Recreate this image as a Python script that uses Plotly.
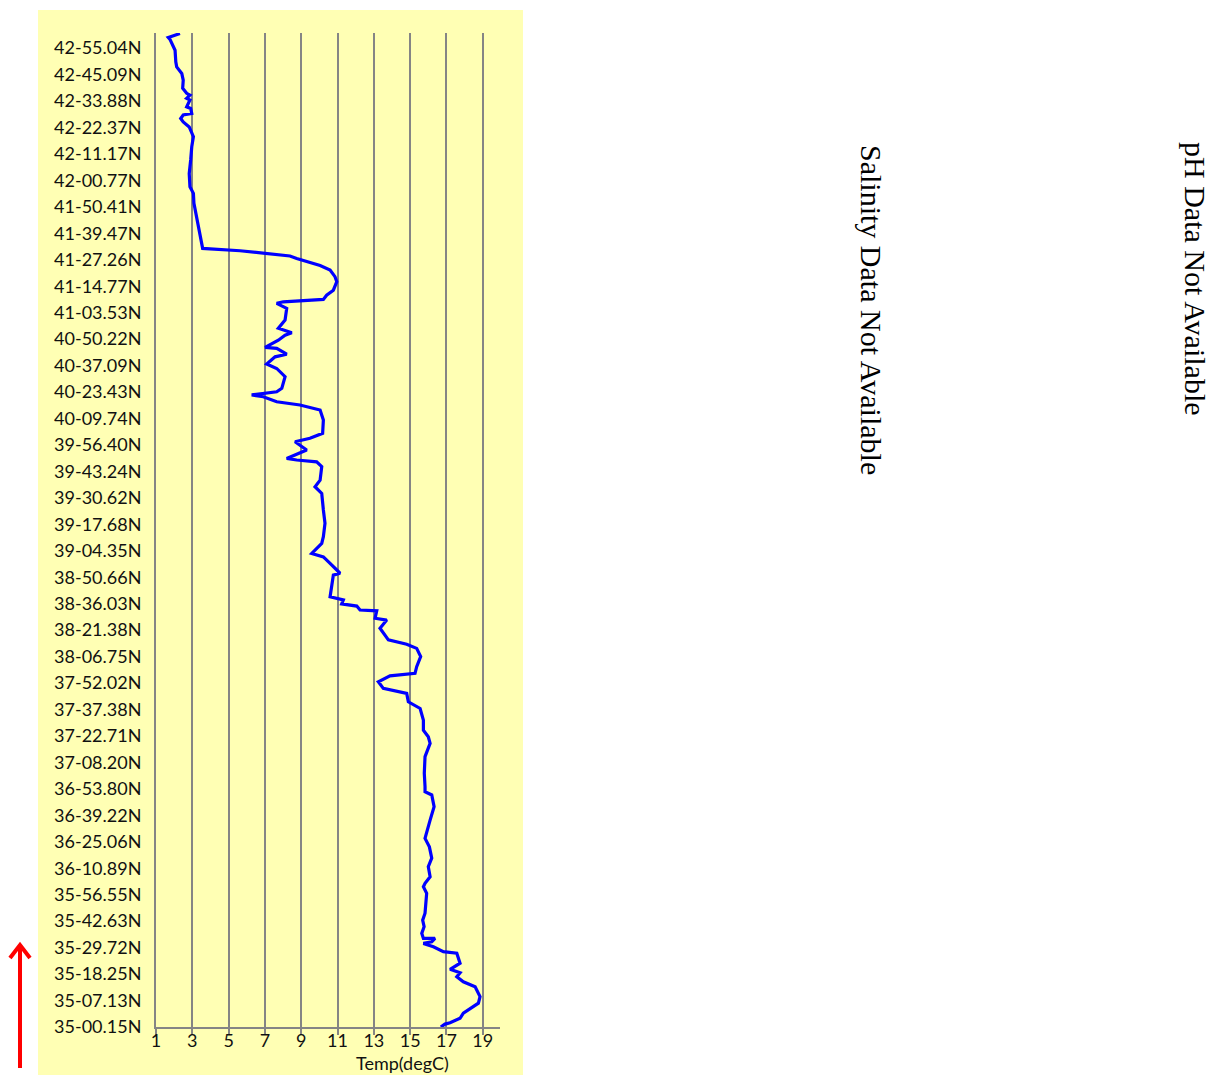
import plotly.graph_objects as go

# Latitude tick labels (bottom -> top); positions are evenly spaced track indices
lat_labels = [
    "35-00.15N", "35-07.13N", "35-18.25N", "35-29.72N", "35-42.63N", "35-56.55N",
    "36-10.89N", "36-25.06N", "36-39.22N", "36-53.80N", "37-08.20N", "37-22.71N",
    "37-37.38N", "37-52.02N", "38-06.75N", "38-21.38N", "38-36.03N", "38-50.66N",
    "39-04.35N", "39-17.68N", "39-30.62N", "39-43.24N", "39-56.40N", "40-09.74N",
    "40-23.43N", "40-37.09N", "40-50.22N", "41-03.53N", "41-14.77N", "41-27.26N",
    "41-39.47N", "41-50.41N", "42-00.77N", "42-11.17N", "42-22.37N", "42-33.88N",
    "42-45.09N", "42-55.04N",
]
lat_tick_pos = list(range(len(lat_labels)))

temp_ticks = [1, 3, 5, 7, 9, 11, 13, 15, 17, 19]

# Track position (in label-index units, south = 0) and temperature (degC), north -> south
track_pos = [
    37.55, 37.40, 37.33, 36.92, 36.48, 36.29, 36.04, 35.79, 35.48, 35.29,
    35.22, 35.10, 35.04, 34.78, 34.72, 34.53, 34.47, 34.34, 34.21, 34.02,
    33.65, 33.27, 32.77, 32.26, 31.76, 31.51, 31.13, 30.62, 29.99, 29.43,
    29.34, 29.24, 29.14, 29.05, 28.78, 28.61, 28.36, 28.17, 27.85, 27.66,
    27.50, 27.41, 27.35, 27.16, 26.72, 26.41, 26.24, 26.15, 25.96, 25.69,
    25.65, 25.43, 25.33, 25.06, 24.89, 24.58, 24.14, 24.01, 23.95, 23.89,
    23.82, 23.63, 23.51, 23.32, 22.94, 22.44, 22.25, 22.12, 21.81, 21.49,
    21.43, 21.36, 21.18, 20.67, 20.42, 20.17, 19.54, 19.04, 18.53, 18.28,
    17.90, 17.77, 17.52, 17.15, 17.08, 16.64, 16.26, 16.14, 15.99, 15.91,
    15.76, 15.73, 15.45, 15.38, 15.07, 14.63, 14.47, 14.31, 14.00, 13.62,
    13.37, 13.27, 13.05, 12.80, 12.61, 12.29, 12.04, 11.60, 11.22, 10.97,
    10.72, 10.22, 9.59, 9.08, 8.89, 8.77, 8.33, 7.82, 7.32, 7.13,
    6.81, 6.38, 6.06, 5.68, 5.43, 5.30, 5.05, 4.30, 4.04, 3.79,
    3.54, 3.35, 3.35, 3.22, 3.16, 3.03, 2.85, 2.79, 2.41, 2.18,
    2.05, 1.90, 1.71, 1.52, 1.15, 0.90, 0.52, 0.33, 0.16, 0.11,
    0.00,
]
temp_c = [
    2.32, 1.68, 1.77, 2.05, 2.09, 2.14, 2.42, 2.50, 2.47, 2.69,
    2.87, 2.69, 2.87, 2.69, 2.91, 2.97, 2.50, 2.36, 2.50, 2.83,
    3.06, 2.97, 2.91, 2.83, 2.87, 3.06, 3.09, 3.24, 3.42, 3.57,
    5.63, 6.91, 8.38, 8.75, 10.04, 10.59, 10.86, 10.96, 10.77, 10.40,
    10.22, 8.01, 7.65, 8.20, 8.11, 7.74, 8.48, 8.11, 7.74, 7.01,
    7.65, 8.20, 7.56, 7.10, 7.65, 8.11, 7.93, 7.65, 6.91, 6.27,
    6.91, 7.65, 8.93, 10.04, 10.22, 10.18, 9.48, 8.66, 9.30, 8.20,
    8.75, 9.85, 10.13, 10.04, 9.76, 10.13, 10.22, 10.31, 10.22, 10.13,
    9.58, 10.22, 10.59, 11.14, 10.77, 10.68, 10.59, 11.32, 11.23, 12.06,
    12.24, 13.16, 13.07, 13.71, 13.34, 13.80, 14.81, 15.36, 15.58, 15.36,
    15.27, 13.89, 13.25, 13.52, 14.81, 14.90, 15.55, 15.73, 15.73, 16.00,
    16.10, 15.82, 15.78, 15.82, 15.82, 16.19, 16.32, 16.10, 15.91, 15.82,
    16.06, 16.19, 16.00, 16.10, 15.82, 15.73, 15.91, 15.82, 15.69, 15.77,
    15.64, 15.73, 16.37, 16.19, 15.73, 16.28, 16.83, 17.57, 17.75, 17.20,
    17.75, 17.57, 17.93, 18.58, 18.85, 18.76, 17.93, 17.75, 17.20, 16.92,
    16.69,
]

# The page body has an 8px margin, so the figure is sized to fit the window exactly.
OFF = 8
W, H = 1220 - 2 * OFF, 1083 - 2 * OFF


def px(x):
    return (x - OFF) / W


def py(y):
    return 1 - (y - OFF) / H


LABEL_FONT = dict(family="Lato, 'Open Sans', sans-serif", size=18, color="#111111")
SERIF = dict(family="'Liberation Serif', 'Times New Roman', serif", size=30, color="black")
GRID = "#858585"

fig = go.Figure()
fig.add_trace(go.Scatter(
    x=temp_c, y=track_pos, mode="lines",
    line=dict(color="#0000FF", width=3.2),
    showlegend=False, hoverinfo="skip",
))

fig.update_layout(
    width=W, height=H,
    margin=dict(l=0, r=0, t=0, b=0, autoexpand=False),
    paper_bgcolor="white",
    plot_bgcolor="white",
    showlegend=False,
    xaxis=dict(
        domain=[px(156), px(500)],
        range=[1, 19.95],
        tickmode="array", tickvals=temp_ticks,
        ticktext=[str(t) for t in temp_ticks],
        showgrid=True, gridcolor=GRID, gridwidth=2,
        showline=True, linecolor=GRID, linewidth=2,
        ticks="outside", ticklen=6, tickwidth=2, tickcolor=GRID,
        ticklabelstandoff=-10,
        tickfont=LABEL_FONT, zeroline=False, automargin=False,
    ),
    yaxis=dict(
        domain=[py(1027), py(33)],
        range=[0, 37.57],
        tickmode="array", tickvals=lat_tick_pos, ticktext=lat_labels,
        showgrid=False, zeroline=False,
        showline=True, linecolor=GRID, linewidth=2,
        ticks="", ticklabelstandoff=9,
        tickfont=LABEL_FONT, automargin=False,
    ),
    shapes=[
        dict(type="rect", xref="paper", yref="paper",
             x0=px(38), x1=px(523), y0=py(1082), y1=py(10),
             fillcolor="#FFFFB4", line=dict(width=0), layer="below"),
        dict(type="line", xref="paper", yref="paper",
             x0=px(20), x1=px(20), y0=py(1068), y1=py(946),
             line=dict(color="#FF0000", width=4)),
        dict(type="path", xref="paper", yref="paper",
             path=f"M {px(10)},{py(958)} L {px(20)},{py(945)} L {px(30)},{py(958)}",
             line=dict(color="#FF0000", width=4)),
    ],
    annotations=[
        dict(text="Temp(degC)", xref="paper", yref="paper",
             x=px(402), y=py(1063), showarrow=False,
             font=LABEL_FONT, xanchor="center", yanchor="middle"),
        dict(text="Salinity Data Not Available", xref="paper", yref="paper",
             x=px(871), y=py(310), showarrow=False, textangle=90,
             font=SERIF, xanchor="center", yanchor="middle"),
        dict(text="pH Data Not Available", xref="paper", yref="paper",
             x=px(1196), y=py(279), showarrow=False, textangle=90,
             font=SERIF, xanchor="center", yanchor="middle"),
    ],
)

fig.write_html("out.html")
